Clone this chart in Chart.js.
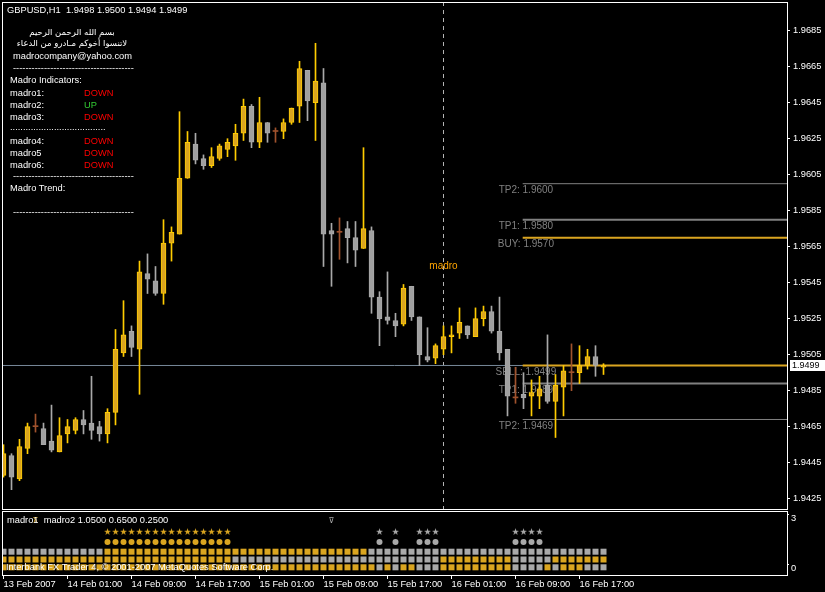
<!DOCTYPE html>
<html>
<head>
<meta charset="utf-8">
<script src="https://cdn.jsdelivr.net/npm/chart.js@4"></script>
<style>
  body { margin: 0; background: #000; width: 825px; height: 592px; overflow: hidden; position: relative; }
  canvas { position: absolute; left: 0; }
  #main { top: 0; }
  #ind { top: 511px; }
  .t { position: absolute; color: #fff; font: 9.3px/11px "Liberation Sans", Arial, sans-serif; white-space: pre; }
  .ar { font-family: "DejaVu Sans", sans-serif; font-size: 8.5px; width: 140px; text-align: center; left: 2px; }
  .dn { color: #ff0000; }
  .up { color: #33cc33; }
</style>
</head>
<body>
<canvas id="main" width="825" height="511"></canvas>
<canvas id="ind" width="825" height="81"></canvas>

<div class="t" style="left:7px;top:5px">GBPUSD,H1  1.9498 1.9500 1.9494 1.9499</div>
<div class="t ar" style="top:27px" dir="rtl">بسم الله الرحمن الرحيم</div>
<div class="t ar" style="top:38px" dir="rtl">لاتنسوا أخوكم مـادرو من الدعاء</div>
<div class="t" style="left:13px;top:51px">madrocompany@yahoo.com</div>
<div class="t" style="left:13px;top:63px">---------------------------------------</div>
<div class="t" style="left:10px;top:75px">Madro Indicators:</div>
<div class="t" style="left:10px;top:88px">madro1:</div><div class="t dn" style="left:84px;top:88px">DOWN</div>
<div class="t" style="left:10px;top:100px">madro2:</div><div class="t up" style="left:84px;top:100px">UP</div>
<div class="t" style="left:10px;top:112px">madro3:</div><div class="t dn" style="left:84px;top:112px">DOWN</div>
<div class="t" style="left:10px;top:122px">.....................................</div>
<div class="t" style="left:10px;top:136px">madro4:</div><div class="t dn" style="left:84px;top:136px">DOWN</div>
<div class="t" style="left:10px;top:148px">madro5</div><div class="t dn" style="left:84px;top:148px">DOWN</div>
<div class="t" style="left:10px;top:160px">madro6:</div><div class="t dn" style="left:84px;top:160px">DOWN</div>
<div class="t" style="left:13px;top:171px">---------------------------------------</div>
<div class="t" style="left:10px;top:183px">Madro Trend:</div>
<div class="t" style="left:13px;top:207px">---------------------------------------</div>

<div class="t" style="left:7px;top:515px">madro1  madro2 1.0500 0.6500 0.2500</div>
<div class="t" style="left:6px;top:562px">Interbank FX Trader 4, © 2001-2007 MetaQuotes Software Corp.</div>

<script>
// GBPUSD H1, 13 Feb 17:00 -> 16 Feb 20:00
const opens = [
  1.9438, 1.9449, 1.9436, 1.9453, 1.9465, 1.9464, 1.9457, 1.9451, 1.9461, 1.9463,
  1.9469, 1.9467, 1.9465, 1.9461, 1.9473, 1.9506, 1.9518, 1.9508, 1.9550, 1.9546,
  1.9539, 1.9567, 1.9572, 1.9603, 1.9622, 1.9614, 1.9610, 1.9614, 1.9619, 1.9621,
  1.9628, 1.9643, 1.9623, 1.9634, 1.9629, 1.9629, 1.9634, 1.9643, 1.9663, 1.9645,
  1.9656, 1.9574, 1.9573, 1.9575, 1.9570, 1.9564, 1.9574, 1.9537, 1.9526, 1.9524,
  1.9522, 1.9543, 1.9526, 1.9504, 1.9503, 1.9508, 1.9515, 1.9517, 1.9521, 1.9515,
  1.9525, 1.9529, 1.9518, 1.9508, 1.9481, 1.9483, 1.9482, 1.9482, 1.9488, 1.9479,
  1.9487, 1.9495, 1.9495, 1.9499, 1.9504, 1.9498
];
const highs = [
  1.9455, 1.9450, 1.9458, 1.9467, 1.9472, 1.9467, 1.9477, 1.9470, 1.9469, 1.9470,
  1.9474, 1.9493, 1.9468, 1.9475, 1.9519, 1.9535, 1.9521, 1.9557, 1.9561, 1.9554,
  1.9580, 1.9576, 1.9640, 1.9629, 1.9628, 1.9616, 1.9620, 1.9622, 1.9625, 1.9633,
  1.9647, 1.9644, 1.9648, 1.9634, 1.9631, 1.9636, 1.9642, 1.9668, 1.9663, 1.9678,
  1.9664, 1.9578, 1.9581, 1.9579, 1.9579, 1.9620, 1.9576, 1.9540, 1.9551, 1.9528,
  1.9544, 1.9543, 1.9526, 1.9520, 1.9511, 1.9521, 1.9521, 1.9531, 1.9521, 1.9531,
  1.9532, 1.9532, 1.9537, 1.9508, 1.9498, 1.9495, 1.9491, 1.9493, 1.9516, 1.9494,
  1.9499, 1.9511, 1.9510, 1.9508, 1.9510, 1.9500
];
const lows = [
  1.9437, 1.9430, 1.9435, 1.9450, 1.9462, 1.9455, 1.9451, 1.9451, 1.9456, 1.9461,
  1.9461, 1.9458, 1.9457, 1.9456, 1.9466, 1.9504, 1.9504, 1.9483, 1.9539, 1.9538,
  1.9533, 1.9557, 1.9572, 1.9603, 1.9611, 1.9608, 1.9609, 1.9613, 1.9615, 1.9613,
  1.9624, 1.9620, 1.9620, 1.9623, 1.9623, 1.9625, 1.9633, 1.9634, 1.9635, 1.9624,
  1.9554, 1.9543, 1.9558, 1.9556, 1.9554, 1.9564, 1.9528, 1.9510, 1.9522, 1.9515,
  1.9521, 1.9524, 1.9499, 1.9501, 1.9500, 1.9505, 1.9506, 1.9514, 1.9514, 1.9515,
  1.9521, 1.9517, 1.9502, 1.9471, 1.9478, 1.9475, 1.9471, 1.9475, 1.9478, 1.9459,
  1.9471, 1.9485, 1.9489, 1.9497, 1.9493, 1.9494
];
const closes = [
  1.9450, 1.9437, 1.9454, 1.9465, 1.9465, 1.9455, 1.9452, 1.9460, 1.9465, 1.9469,
  1.9466, 1.9463, 1.9461, 1.9473, 1.9508, 1.9516, 1.9509, 1.9551, 1.9547, 1.9539,
  1.9567, 1.9573, 1.9603, 1.9623, 1.9613, 1.9610, 1.9615, 1.9621, 1.9623, 1.9628,
  1.9643, 1.9623, 1.9634, 1.9628, 1.9629, 1.9634, 1.9642, 1.9664, 1.9646, 1.9657,
  1.9572, 1.9572, 1.9573, 1.9570, 1.9563, 1.9575, 1.9537, 1.9525, 1.9524, 1.9521,
  1.9542, 1.9526, 1.9505, 1.9502, 1.9510, 1.9515, 1.9516, 1.9523, 1.9516, 1.9525,
  1.9529, 1.9518, 1.9506, 1.9482, 1.9481, 1.9481, 1.9484, 1.9486, 1.9479, 1.9488,
  1.9496, 1.9495, 1.9499, 1.9504, 1.9499, 1.9499
];

// x axis labels, one every 8 bars
const timeLabels = ["13 Feb 2007", "14 Feb 01:00", "14 Feb 09:00", "14 Feb 17:00", "15 Feb 01:00",
                    "15 Feb 09:00", "15 Feb 17:00", "16 Feb 01:00", "16 Feb 09:00", "16 Feb 17:00"];
const barsPerLabel = 8;
const priceTicks = [1.9425, 1.9445, 1.9465, 1.9485, 1.9505, 1.9525, 1.9545,
                    1.9565, 1.9585, 1.9605, 1.9625, 1.9645, 1.9665, 1.9685];

// trade levels drawn from bar 65 onwards
const levelNames = ["TP2", "TP1", "BUY", "SELL", "TP1", "TP2"];
const levelPrices = [1.9600, 1.9580, 1.9570, 1.9499, 1.9489, 1.9469];
const levelStartBar = 64.9;
const bidPrice = 1.9499;
const markerBar = 55;          // 16 Feb 00:00
const markerText = "madro";
const markerPrice = 1.9554;

// madro indicator window (1 = gold, 0 = gray)
const rowValues = [1.05, 0.65, 0.25];
const row1 = [0,0,0,0,0,0,0,0,0,0, 0,0,0,1,1,1,1,1,1,1, 1,1,1,1,1,1,1,1,1,1, 1,1,1,1,1,1,1,1,1,1,
              1,1,1,1,1,1,0,0,0,0, 0,0,0,0,0,0,0,0,0,0, 0,0,0,0,0,0,0,0,0,0, 0,0,0,0,0,0];
const row2 = [1,1,1,1,1,1,1,1,1,1, 1,1,1,1,1,1,1,1,1,1, 1,1,1,1,1,1,1,1,1,0, 0,0,0,0,0,0,0,0,0,0,
              0,0,0,0,0,0,0,0,0,0, 0,0,0,0,0,1,1,1,1,1, 1,1,1,1,0,0,0,0,0,1, 1,1,1,1,1,1];
const row3 = [1,1,1,1,1,1,1,1,1,1, 1,1,1,1,1,1,1,1,1,1, 1,1,1,1,1,1,1,1,1,1, 1,1,1,1,1,1,1,1,1,1,
              1,1,1,1,1,1,1,0,1,0, 1,1,0,0,0,1,1,1,1,1, 1,1,1,1,0,0,0,0,1,0, 1,1,1,0,0,0];
// star + dot signals (0 none, 1 gold, 2 gray)
const signals = [0,0,0,0,0,0,0,0,0,0, 0,0,0,1,1,1,1,1,1,1, 1,1,1,1,1,1,1,1,1,0, 0,0,0,0,0,0,0,0,0,0,
                 0,0,0,0,0,0,0,2,0,2, 0,0,2,2,2,0,0,0,0,0, 0,0,0,0,2,2,2,2,0,0, 0,0,0,0,0,0];
const dotValue = 1.55;
const starValue = 2.05;
// madro1 arrows
const arrowBars = [4, 41];
const arrowUp = [true, false];
const arrowValue = 2.62;

const GOLD = "#DAA520", YELLOW = "#FFCC00", GRAY = "#A9A9A9", BROWN = "#A0522D";
const FONT = "Liberation Sans";

// x range: 8px per bar, 785px wide plot
const xMin = -0.1875, xMax = 97.9375;
const bars = opens.map((o, i) => i);
const dir = i => closes[i] > opens[i] ? 1 : (closes[i] < opens[i] ? -1 : 0);
const wickCol = i => ({ "1": YELLOW, "-1": GRAY, "0": BROWN })[dir(i)];
const fillCol = i => ({ "1": GOLD, "-1": "#A0A0A0", "0": BROWN })[dir(i)];

function levelStyle(name) {
  if (name === "BUY" || name === "SELL") return { color: GOLD, width: 2 };
  if (name === "TP1") return { color: "#808080", width: 2 };
  return { color: "#808080", width: 1 };
}

// chart.js reserves room for edge tick labels, MT4 does not
function noPad(s) {
  s.paddingTop = 0; s.paddingBottom = 0; s.paddingLeft = 0; s.paddingRight = 0;
}

const mainOverlay = {
  id: "mainOverlay",
  beforeDatasetsDraw(chart) {
    const { ctx, chartArea: a, scales: { x, y } } = chart;
    ctx.save();
    // separator
    const sx = x.getPixelForValue(markerBar);
    ctx.strokeStyle = "#b4b4b4";
    ctx.lineWidth = 1;
    ctx.setLineDash([4, 4]);
    ctx.beginPath(); ctx.moveTo(sx, a.top); ctx.lineTo(sx, a.bottom); ctx.stroke();
    ctx.setLineDash([]);
    ctx.fillStyle = "#FFA500";
    ctx.font = "10px " + FONT;
    ctx.textAlign = "center"; ctx.textBaseline = "middle";
    ctx.fillText(markerText, sx, y.getPixelForValue(markerPrice));
    // level labels
    ctx.fillStyle = "#808080";
    levelNames.forEach((n, k) => {
      ctx.fillText(n + ": " + levelPrices[k].toFixed(4),
        x.getPixelForValue(levelStartBar + 0.4), y.getPixelForValue(levelPrices[k]) + 6.5);
    });
    ctx.restore();
  },
  afterDraw(chart) {
    const { ctx, chartArea: a, scales: { y } } = chart;
    ctx.save();
    ctx.strokeStyle = "#fff";
    ctx.lineWidth = 1;
    ctx.strokeRect(a.left + 0.5, a.top + 0.5, a.right - a.left, a.bottom - a.top - 1);
    const py = Math.round(y.getPixelForValue(bidPrice));
    ctx.fillStyle = "#fff";
    ctx.fillRect(a.right + 3, py - 5, 35, 11);
    ctx.fillStyle = "#000";
    ctx.font = "9px " + FONT;
    ctx.textBaseline = "middle";
    ctx.fillText(bidPrice.toFixed(4), a.right + 5, py + 0.5);
    ctx.restore();
  }
};

new Chart(document.getElementById("main"), {
  type: "bar",
  data: {
    datasets: [
      {
        type: "line", order: 7,
        data: [{ x: xMin, y: bidPrice }, { x: xMax, y: bidPrice }],
        borderColor: "#778899", borderWidth: 1, pointRadius: 0
      },
      ...levelNames.map((n, k) => ({
        type: "line", order: 5,
        data: [{ x: levelStartBar, y: levelPrices[k] }, { x: xMax, y: levelPrices[k] }],
        borderColor: levelStyle(n).color, borderWidth: levelStyle(n).width, pointRadius: 0
      })),
      {
        // wicks
        order: 1, grouped: false, barThickness: 1,
        data: bars.map(i => ({ x: i, y: [lows[i], highs[i]] })),
        backgroundColor: c => wickCol(c.dataIndex), borderWidth: 0
      },
      {
        // bodies
        order: 0, grouped: false, barThickness: 5, minBarLength: 1,
        data: bars.map(i => ({ x: i, y: [opens[i], closes[i]] })),
        backgroundColor: c => fillCol(c.dataIndex),
        borderColor: c => wickCol(c.dataIndex),
        borderWidth: c => dir(c.dataIndex) === 0 ? 0 : 1,
        borderSkipped: false
      }
    ]
  },
  options: {
    responsive: false,
    animation: false,
    events: [],
    layout: { autoPadding: false, padding: { left: 2, top: 2, bottom: 1, right: 0 } },
    plugins: { legend: { display: false }, tooltip: { enabled: false } },
    scales: {
      x: { type: "linear", min: xMin, max: xMax, offset: false, display: false },
      y: {
        position: "right", min: 1.941872, max: 1.970094,
        afterBuildTicks: s => { s.ticks = priceTicks.map(v => ({ value: v })); },
        afterFit: s => { s.width = 38; noPad(s); },
        ticks: { color: "#fff", font: { family: FONT, size: 9.3 }, padding: 3, callback: v => v.toFixed(4) },
        grid: { drawOnChartArea: false, color: "#fff", tickLength: 3 },
        border: { display: false }
      }
    }
  },
  plugins: [mainOverlay]
});

// star symbol used as a point style
function starImage(color) {
  const c = document.createElement("canvas");
  c.width = 9; c.height = 9;
  const g = c.getContext("2d");
  g.fillStyle = color;
  g.font = "9px 'DejaVu Sans'";
  g.textAlign = "center"; g.textBaseline = "middle";
  g.fillText("★", 4.5, 5);
  return c;
}
const starGold = starImage(GOLD), starGray = starImage(GRAY);

const indOverlay = {
  id: "indOverlay",
  afterDatasetsDraw(chart) {
    const { ctx, scales: { x, y } } = chart;
    ctx.save();
    ctx.font = "8px 'DejaVu Sans'";
    ctx.textAlign = "center"; ctx.textBaseline = "middle";
    arrowBars.forEach((b, k) => {
      ctx.fillStyle = arrowUp[k] ? GOLD : GRAY;
      ctx.fillText(arrowUp[k] ? "⊼" : "⊽", x.getPixelForValue(b), y.getPixelForValue(arrowValue));
    });
    ctx.restore();
  },
  afterDraw(chart) {
    const { ctx, chartArea: a, scales: { y } } = chart;
    ctx.save();
    ctx.strokeStyle = "#fff";
    ctx.lineWidth = 1;
    ctx.strokeRect(a.left + 0.5, a.top - 0.5, a.right - a.left, a.bottom - a.top);
    ctx.fillStyle = "#fff";
    ctx.font = "9.3px " + FONT;
    ctx.textBaseline = "middle";
    [[3, 4.5], [0, -4]].forEach(([v, off]) => {
      const py = Math.round(y.getPixelForValue(v) + off);
      ctx.fillRect(a.right, py - 4, 2, 1);
      ctx.fillText(String(v), a.right + 4, py);
    });
    ctx.restore();
  }
};

const rowColor = row => c => row[c.dataIndex] ? GOLD : GRAY;

new Chart(document.getElementById("ind"), {
  type: "scatter",
  data: {
    datasets: [
      ...[row1, row2, row3].map((row, r) => ({
        data: bars.map(i => ({ x: i, y: rowValues[r] })),
        pointStyle: "rect", pointRadius: 4.25, borderWidth: 0,
        backgroundColor: rowColor(row)
      })),
      {
        data: bars.map(i => ({ x: i, y: signals[i] ? dotValue : null })),
        pointStyle: "circle", pointRadius: 3, borderWidth: 0,
        backgroundColor: c => signals[c.dataIndex] === 1 ? GOLD : GRAY
      },
      {
        data: bars.map(i => ({ x: i, y: signals[i] ? starValue : null })),
        pointStyle: c => signals[c.dataIndex] === 1 ? starGold : starGray,
        pointRadius: 4
      }
    ]
  },
  options: {
    responsive: false,
    animation: false,
    events: [],
    layout: { autoPadding: false, padding: { left: 2, top: 1, bottom: 0, right: 0 } },
    plugins: { legend: { display: false }, tooltip: { enabled: false } },
    scales: {
      x: {
        type: "linear", min: xMin, max: xMax, offset: false,
        afterBuildTicks: s => { s.ticks = timeLabels.map((t, k) => ({ value: k * barsPerLabel })); },
        afterFit: s => { s.height = 16; noPad(s); },
        ticks: {
          color: "#fff", font: { family: FONT, size: 9.3 }, align: "start",
          maxRotation: 0, autoSkip: false, padding: 0,
          callback: (v, i) => timeLabels[i]
        },
        grid: { drawOnChartArea: false, color: "#fff", tickLength: 3 },
        border: { display: false }
      },
      y: {
        position: "right", min: -0.196, max: 3.086,
        afterFit: s => { s.width = 38; noPad(s); },
        ticks: { display: false },
        grid: { display: false },
        border: { display: false }
      }
    }
  },
  plugins: [indOverlay]
});
</script>
</body>
</html>
